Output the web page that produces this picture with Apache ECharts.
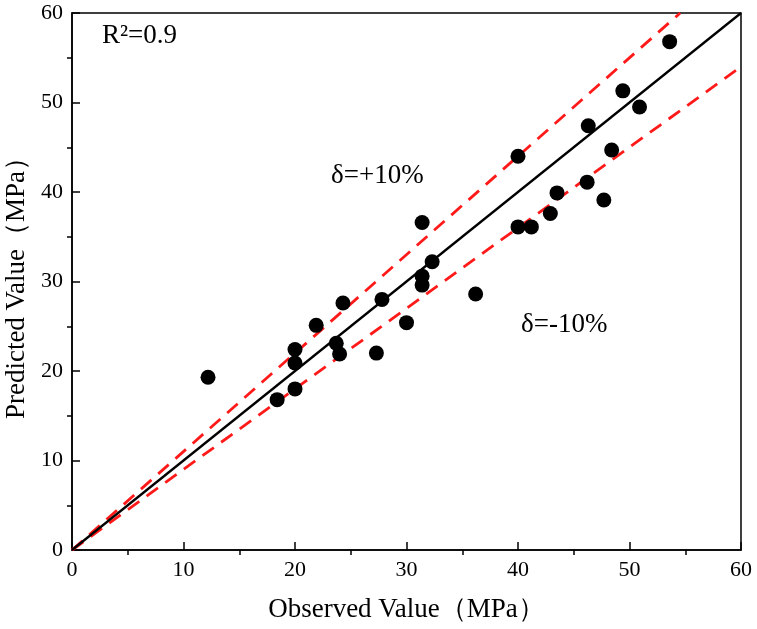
<!DOCTYPE html>
<html><head><meta charset="utf-8">
<script src="https://cdn.jsdelivr.net/npm/echarts@6/dist/echarts.min.js"></script>
<style>html,body{margin:0;padding:0;background:#fff}#c{width:757px;height:629px}</style>
</head><body><div id="c"></div>
<script>
const observed = [12.2, 18.4, 20.0, 20.0, 20.0, 21.9, 23.7, 24.0, 24.3, 27.3, 27.8, 30.0, 31.4, 31.4, 31.4, 32.3, 36.2, 40.0, 40.0, 41.2, 42.9, 43.5, 46.2, 46.3, 47.7, 48.4, 49.4, 50.9, 53.6];
const predicted = [19.3, 16.8, 22.4, 20.9, 18.0, 25.1, 23.1, 21.9, 27.6, 22.0, 28.0, 25.4, 36.6, 30.6, 29.6, 32.2, 28.6, 44.0, 36.1, 36.1, 37.6, 39.9, 41.1, 47.4, 39.1, 44.7, 51.3, 49.5, 56.8];
const axisTicks = [0, 10, 20, 30, 40, 50, 60];
const refLine = [[0, 0], [60, 60]];
const upperLine = [[0, 0], [60 / 1.1, 60]];
const lowerLine = [[0, 0], [60, 54]];
const annotations = ['R²=0.9', 'δ=+10%', 'δ=-10%'];
const xName = 'Observed Value（MPa）';
const yName = 'Predicted Value（MPa）';

const font = '"Liberation Serif","Times New Roman",serif';
const pts = observed.map((v, i) => [v, predicted[i]]);
function axis(name, gap) {
  return {
    type: 'value', min: axisTicks[0], max: axisTicks[axisTicks.length - 1], interval: axisTicks[1] - axisTicks[0],
    name: name, nameLocation: 'middle', nameGap: gap,
    nameTextStyle: { fontFamily: font, fontSize: 27, color: '#000' },
    axisLine: { show: true, onZero: false, lineStyle: { color: '#000', width: 1.5 } },
    axisTick: { show: true, inside: true, length: 8, lineStyle: { color: '#000', width: 1.5 } },
    minorTick: { show: true, splitNumber: 2, length: -5, lineStyle: { color: '#000', width: 1.5 } },
    axisLabel: { fontFamily: font, fontSize: 22, color: '#000', margin: 9 },
    splitLine: { show: false }
  };
}
const xAxis = axis(xName, 46);
const yAxis = axis(yName, 36);
const chart = echarts.init(document.getElementById('c'), null, { renderer: 'canvas' });
chart.setOption({
  animation: false,
  backgroundColor: '#fff',
  grid: { left: 72, right: 16, top: 13, bottom: 79, show: true, borderColor: '#000', borderWidth: 1.5, containLabel: false, outerBoundsMode: 'none' },
  xAxis: xAxis,
  yAxis: yAxis,
  series: [
    { type: 'line', data: upperLine, symbol: 'none', lineStyle: { color: '#ff1a1a', width: 2.8, type: [14, 9] }, z: 2 },
    { type: 'line', data: lowerLine, symbol: 'none', lineStyle: { color: '#ff1a1a', width: 2.8, type: [14, 9] }, z: 2 },
    { type: 'line', data: refLine, symbol: 'none', lineStyle: { color: '#000', width: 2.3 }, z: 3 },
    { type: 'scatter', data: pts, symbol: 'circle', symbolSize: 15, itemStyle: { color: '#000', opacity: 1 }, z: 4 }
  ],
  graphic: [
    { type: 'text', left: 102, top: 22, style: { text: annotations[0], font: '27px ' + font, fill: '#000' } },
    { type: 'text', left: 331, top: 162, style: { text: annotations[1], font: '27px ' + font, fill: '#000' } },
    { type: 'text', left: 521, top: 311, style: { text: annotations[2], font: '27px ' + font, fill: '#000' } }
  ]
});
</script></body></html>
